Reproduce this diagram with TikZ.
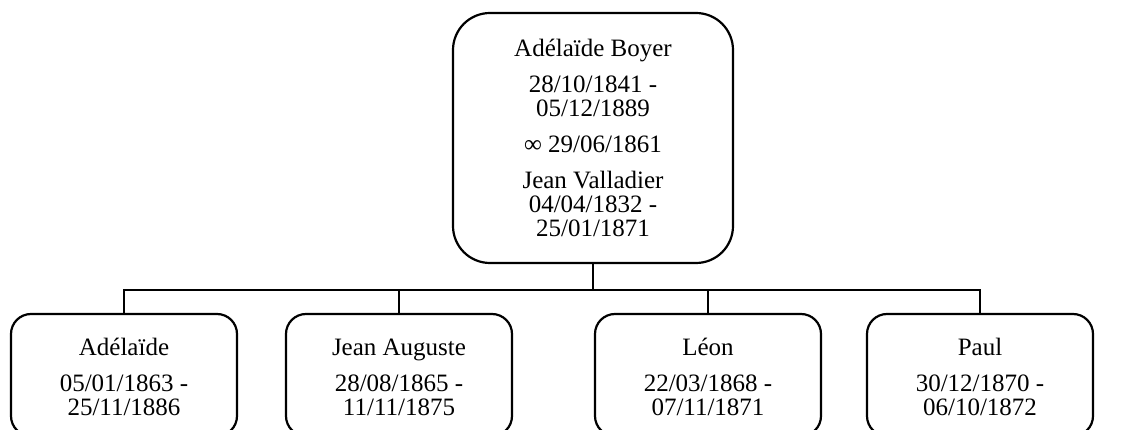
\documentclass[tikz,border=0pt]{standalone}
\usepackage{fontspec}
\setmainfont{Liberation Serif}

\begin{document}
\begin{tikzpicture}[x=1pt, y=-1pt,
    person/.style={draw, line width=2.2pt, rounded corners=20pt, minimum width=226pt, minimum height=122pt, inner sep=0pt, align=center, font=\fontsize{25}{24}\selectfont},
    couple/.style={person, rounded corners=37pt, minimum width=280pt, minimum height=250pt},
    link/.style={line width=2.2pt}]
    \clip (0,0) rectangle (1128,430);
    \node[couple] (parents) at (593,138) {Adélaïde Boyer\\[12pt]28/10/1841 -\\05/12/1889\\[12pt]∞ 29/06/1861\\[12pt]Jean Valladier\\04/04/1832 -\\25/01/1871};
    \node[person] (adelaide) at (124,375) {\vphantom{Ég}Adélaïde\\[12pt]05/01/1863 -\\25/11/1886};
    \node[person] (jean) at (399,375) {\vphantom{Ég}Jean Auguste\\[12pt]28/08/1865 -\\11/11/1875};
    \node[person] (leon) at (708,375) {\vphantom{Ég}Léon\\[12pt]22/03/1868 -\\07/11/1871};
    \node[person] (paul) at (980,375) {\vphantom{Ég}Paul\\[12pt]30/12/1870 -\\06/10/1872};
    \foreach \kid in {adelaide, jean, leon, paul}
        \draw[link] (parents.south) -- ++(0,26) -| (\kid.north);
\end{tikzpicture}
\end{document}
